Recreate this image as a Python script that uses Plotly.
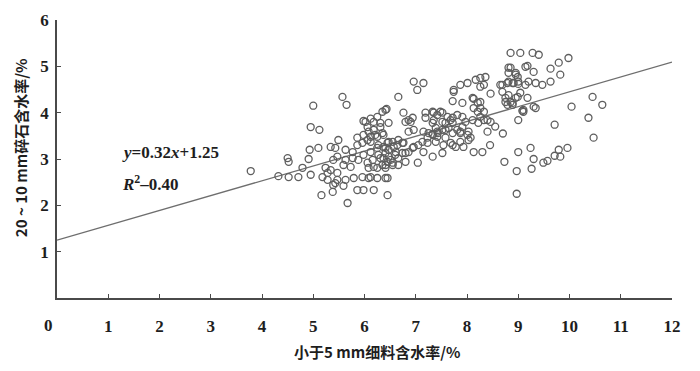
import plotly.graph_objects as go

# Scatter data (x: <5 mm fines moisture %, y: 20~10 mm gravel moisture %)
pts = [
(3.78,2.74),(4.32,2.63),(4.52,2.61),(4.71,2.61),(4.50,3.02),(4.52,2.94),(4.79,2.81),(4.91,3.00),(4.95,2.66),
(5.00,4.15),(4.95,3.69),(5.12,3.63),(4.93,3.20),(5.10,3.24),(5.18,2.61),(5.24,2.81),(5.28,2.70),(5.16,2.22),
(5.38,2.29),(5.43,3.24),(5.49,3.41),(5.39,2.98),(5.43,2.48),(5.34,3.26),(5.57,4.34),(5.65,4.17),(5.63,3.20),
(5.77,3.15),(5.67,2.05),(5.86,2.33),(5.98,2.33),(6.18,2.33),(5.98,3.82),(5.86,3.30),(5.96,3.35),(6.06,3.41),
(6.02,3.80),(6.12,3.87),(6.25,3.91),(6.35,4.02),(6.41,4.06),(5.34,2.76),(5.47,2.70),(5.59,2.87),(5.73,2.83),
(5.28,2.55),(5.47,2.55),(5.63,2.55),(5.79,2.59),(5.96,2.61),(6.12,2.61),(6.25,2.59),(6.41,2.59),(5.39,2.44),
(5.59,2.42),(5.47,3.05),(5.63,2.98),(5.77,3.02),(5.88,2.98),(5.98,3.09),(6.12,3.15),(6.25,3.24),(6.37,3.26),
(6.06,2.92),(6.18,2.83),(6.35,2.87),(6.45,2.94),(6.06,3.69),(6.18,3.63),(6.31,3.69),(6.37,3.52),(6.25,3.48),
(6.12,3.48),(5.98,3.52),(5.86,3.46),(6.27,3.09),(6.41,3.13),(6.47,3.37),(6.66,4.34),(6.43,4.08),(6.18,3.80),
(6.31,3.78),(6.47,3.78),(6.76,4.00),(6.94,3.89),(6.90,3.80),(6.80,3.80),(6.86,3.84),(6.96,3.63),(6.66,3.41),
(6.76,3.35),(6.64,3.30),(6.55,3.37),(6.45,3.35),(6.47,3.20),(6.61,3.15),(6.74,3.13),(6.86,3.15),(6.96,3.26),
(7.05,3.30),(7.13,3.37),(7.23,3.46),(7.33,3.52),(7.43,3.56),(6.37,3.02),(6.51,2.98),(6.66,3.02),(6.80,2.94),
(6.55,2.87),(6.41,2.81),(7.04,2.92),(6.45,2.59),(6.96,4.67),(7.15,4.64),(7.03,4.49),(7.19,3.89),(7.35,4.00),
(7.48,4.02),(7.62,3.91),(7.72,3.89),(7.91,3.91),(7.33,3.78),(7.52,3.80),(7.72,3.78),(7.74,4.49),(7.87,4.60),
(8.01,4.64),(8.17,4.71),(8.26,4.75),(8.36,4.77),(8.26,4.56),(8.33,4.60),(7.72,4.25),(7.91,4.21),(8.13,4.30),
(8.26,4.23),(8.46,4.41),(8.13,4.10),(8.21,4.02),(8.33,4.02),(7.97,3.80),(8.11,3.84),(8.22,3.78),(8.33,3.84),
(8.46,3.80),(8.85,5.29),(9.04,5.29),(9.28,5.29),(9.40,5.25),(9.98,5.18),(9.79,5.08),(9.63,4.95),(9.82,4.82),
(9.18,5.01),(9.30,4.88),(8.85,4.97),(8.81,4.86),(8.95,4.86),(8.99,4.77),(8.69,4.60),(8.79,4.64),(8.89,4.64),
(9.00,4.62),(9.14,4.60),(9.47,4.60),(9.63,4.67),(9.04,4.43),(8.95,4.32),(8.75,4.32),(8.85,4.23),(8.79,4.17),
(8.89,4.17),(9.08,4.04),(9.34,4.10),(9.00,3.84),(9.71,3.74),(10.04,4.13),(10.45,4.34),(10.64,4.17),(10.37,3.89),
(10.47,3.46),(9.96,3.24),(9.79,3.20),(9.82,3.05),(9.71,3.07),(9.57,2.96),(9.49,2.92),(9.24,3.24),(9.00,3.15),
(9.30,3.00),(9.26,2.79),(8.97,2.74),(8.73,2.94),(8.97,2.25),(6.86,3.59),(7.15,3.59),(7.33,3.54),(7.42,3.59),
(7.58,3.63),(7.87,3.59),(8.03,3.59),(8.07,3.46),(8.13,3.15),(8.30,3.15),(6.45,2.22),(6.08,2.59),(7.19,4.00),
(7.33,4.02),(7.42,3.95),(7.52,4.00),(7.35,3.84),(7.58,3.78),(7.68,3.84),(7.81,3.95),(7.64,3.67),(7.52,3.63),
(7.39,3.67),(7.25,3.56),(7.42,3.48),(7.58,3.46),(7.72,3.56),(7.81,3.63),(7.91,3.69),(7.87,3.56),(8.01,3.52),
(8.03,3.41),(7.72,3.30),(7.87,3.37),(7.93,3.26),(7.74,4.45),(8.11,4.32),(8.21,4.21),(8.26,4.10),(8.26,3.91),
(8.40,3.84),(8.69,4.45),(8.81,4.38),(8.75,4.23),(8.89,4.21),(9.10,4.06),(9.30,4.13),(9.18,4.32),(8.99,4.34),
(6.08,3.59),(6.21,3.52),(6.35,3.56),(6.12,3.37),(6.27,3.30),(6.41,3.24),(6.57,3.26),(6.74,3.35),(6.60,3.09),
(6.47,3.05),(6.31,3.02),(6.16,2.98),(6.08,2.81),(6.25,2.81),(6.41,2.87),(6.55,2.92),(6.66,2.87),(6.80,3.13),
(6.94,3.24),(7.23,3.35),(7.39,3.37),(7.54,3.30),(7.68,3.35),(7.78,3.26),(7.52,3.13),(7.33,3.05),(7.15,3.15),
(8.65,4.60),(8.81,4.67),(8.91,4.64),(8.81,4.97),(8.95,4.82),(9.00,4.67),(9.14,4.99),(9.20,4.67),(9.34,4.64),
(9.10,4.02),(8.40,3.59),(8.55,3.70),(8.70,3.55),(8.45,3.30),
]
fines_moisture = [p[0] for p in pts]
gravel_moisture = [p[1] for p in pts]

slope = 0.32
intercept = 1.25
x_range = [0, 12]
fit_y = [slope * v + intercept for v in x_range]

x_ticks = list(range(1, 13))
y_ticks = list(range(1, 7))

SERIF = "Liberation Serif, Times New Roman, serif"
CJK = "Noto Sans CJK SC, Liberation Serif, serif"
INK = "#1e1e1e"

fig = go.Figure()
fig.add_trace(go.Scatter(
    x=x_range, y=fit_y, mode="lines",
    line=dict(color="#6e6e6e", width=1.3), hoverinfo="skip", showlegend=False))
fig.add_trace(go.Scatter(
    x=fines_moisture, y=gravel_moisture, mode="markers",
    marker=dict(symbol="circle-open", size=7, color="#5e5e5e", line=dict(width=1.3, color="#5e5e5e")),
    showlegend=False))

axis_common = dict(
    showgrid=False, zeroline=False, showline=True, linecolor="#4a4a4a", linewidth=1.5,
    ticks="inside", ticklen=4, tickwidth=1.2, tickcolor="#4a4a4a", automargin=False,
    tickfont=dict(family=SERIF, size=17, color=INK, weight="bold"),
)
fig.update_xaxes(range=[0, 12], tickvals=x_ticks, ticklabelstandoff=12, **axis_common)
fig.update_yaxes(range=[0, 6], tickvals=y_ticks, ticklabelstandoff=3, **axis_common)

fig.update_layout(
    width=700, height=371,
    margin=dict(l=57, r=28, t=20, b=73, autoexpand=False),
    plot_bgcolor="white", paper_bgcolor="white",
    showlegend=False,
    annotations=[
        dict(text="0", xref="paper", yref="paper", x=0, y=0, xshift=-9, yshift=-27,
             showarrow=False, font=dict(family=SERIF, size=17, color=INK, weight="bold"),
             xanchor="center", yanchor="middle"),
        dict(text="小于5 mm细料含水率/%", xref="paper", yref="paper", x=0.52, y=-0.194,
             showarrow=False, font=dict(family=CJK, size=15, color=INK, weight="bold"),
             xanchor="center", yanchor="middle"),
        dict(text="20 ~ 10 mm碎石含水率/%", xref="paper", yref="paper", x=-0.058, y=0.54, textangle=-90,
             showarrow=False, font=dict(family=CJK, size=15, color=INK, weight="bold"),
             xanchor="center", yanchor="middle"),
        dict(text="<i>y</i>=0.32<i>x</i>+1.25", xref="x", yref="y", x=1.22, y=3.13,
             showarrow=False, font=dict(family=SERIF, size=17, color=INK, weight="bold"),
             xanchor="left", yanchor="middle"),
        dict(text="<i>R</i><sup>2</sup>–0.40", xref="x", yref="y", x=1.22, y=2.48,
             showarrow=False, font=dict(family=SERIF, size=17, color=INK, weight="bold"),
             xanchor="left", yanchor="middle"),
    ],
)

fig.write_html("out.html", config={"displayModeBar": False},
               post_script="document.body.style.margin='0';")
